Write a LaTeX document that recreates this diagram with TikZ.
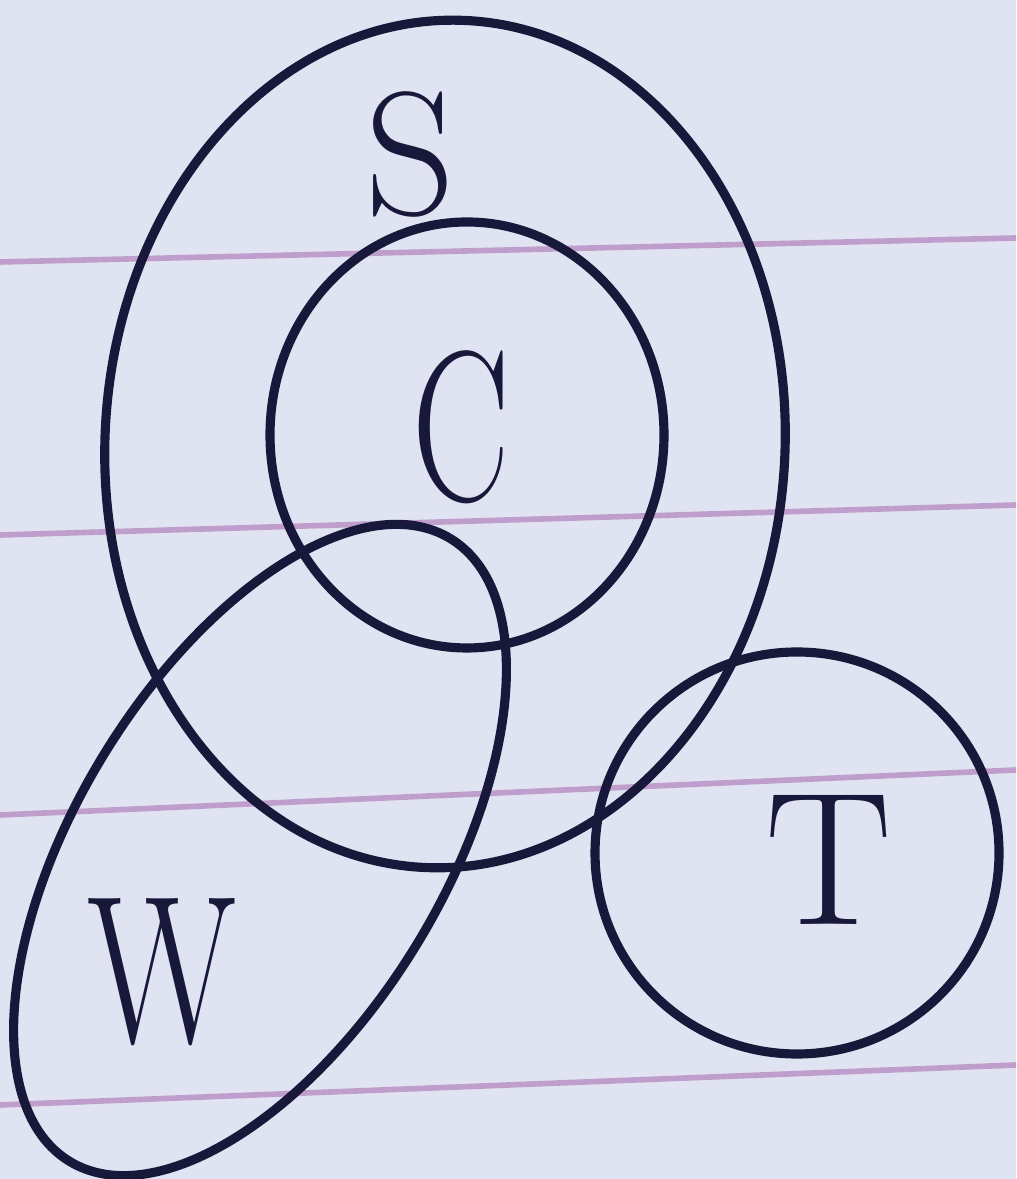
\documentclass[tikz,border=0pt]{standalone}
\usepackage{fontspec}
\usepackage{xcolor}
\usepackage{tikz}
\usetikzlibrary{shapes.geometric}
\definecolor{ink}{RGB}{24,24,58}
\definecolor{paper}{RGB}{224,227,242}
\definecolor{ruling}{RGB}{192,158,204}

\begin{document}
\begin{tikzpicture}[
    setshape/.style={draw=ink, ellipse, line width=2.6pt, inner sep=0pt},
    lbl/.style={text=ink, inner sep=0pt, transform shape},
    ruleline/.style={draw=ruling, line width=1.6pt}]
  \fill[paper] (0,0) rectangle (10.16,11.79);
  \useasboundingbox (0,0) rectangle (10.16,11.79);
  \draw[ruleline] (0,9.17) -- (10.16,9.41);
  \draw[ruleline] (0,6.44) -- (10.16,6.74);
  \draw[ruleline] (0,3.64) -- (10.16,4.09);
  \draw[ruleline] (0,0.74) -- (10.16,1.14);

  \node[setshape, minimum width=6.80cm, minimum height=8.48cm, rotate=-3] (S) at (4.45,7.35) {};
  \node[setshape, minimum width=3.94cm, minimum height=4.26cm] (C) at (4.67,7.44) {};
  \node[setshape, minimum width=7.30cm, minimum height=3.66cm, rotate=58.5] (W) at (2.60,3.29) {};
  \node[setshape, minimum width=4.04cm, minimum height=4.02cm] (T) at (7.97,3.26) {};

  \node[lbl, font=\fontsize{50}{50}\selectfont] (sname) at (4.10,10.24) {S};
  \node[lbl, font=\fontsize{61}{61}\selectfont, xscale=0.68] (cname) at (4.61,7.52) {C};
  \node[lbl, font=\fontsize{60}{60}\selectfont, xscale=0.74] (wname) at (1.62,2.07) {W};
  \node[lbl, font=\fontsize{54}{54}\selectfont] (tname) at (8.29,3.19) {T};
\end{tikzpicture}
\end{document}
